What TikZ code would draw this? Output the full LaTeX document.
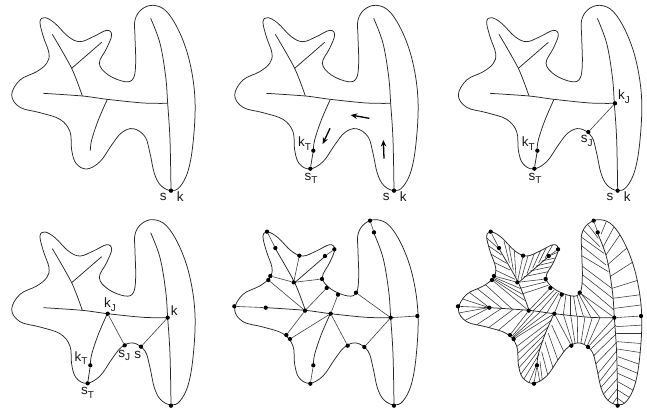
\documentclass[tikz,border=0pt]{standalone}
\usepackage{fontspec}
\setmainfont{Liberation Sans}
\usetikzlibrary{arrows.meta}
\newcommand{\subl}[1]{\raisebox{-0.28em}{\fontsize{10}{10}\selectfont #1}}
\tikzset{
  curve/.style={line width=0.75pt,black!85},
  edge/.style={line width=0.6pt,black!75},
  hatchline/.style={line width=0.55pt,black!80},
  dot/.style={circle,fill=black,inner sep=0pt,minimum size=4.3pt},
  lab/.style={font=\fontsize{13.5}{13.5}\selectfont,inner sep=0pt,text=black!90},
  flow/.style={line width=1.3pt,-{Stealth[length=6.5pt,width=5.5pt]}},
}
\newcommand{\blob}{plot[smooth cycle,tension=.62] coordinates {(513,572)(482,556)(463,520)(450,460)(435,410)(400,386)(365,398)(335,435)(300,485)(260,507)(228,490)(215,450)(210,395)(180,358)(120,338)(60,322)(35,285)(60,240)(110,215)(140,190)(147,160)(130,110)(120,65)(135,53)(165,70)(205,110)(240,125)(280,110)(320,91)(335,105)(320,145)(298,190)(325,225)(375,245)(400,235)(407,190)(405,110)(405,60)(425,28)(460,16)(500,35)(540,100)(570,190)(585,300)(580,420)(565,510)(540,560)}}
\newcommand{\drawblob}{\draw[curve] \blob;}
\newcommand{\drawskel}{%
  \draw[curve] plot[smooth,tension=.6] coordinates {(452,55)(480,130)(497,230)(503,310)(510,420)(513,572)};
  \draw[curve] plot[smooth,tension=.5] coordinates {(130,280)(247,288)(322,298)(430,309)(503,310)};
  \draw[curve] plot[smooth,tension=.5] coordinates {(157,103)(215,205)(247,288)};
  \draw[curve] (215,205) -- (305,127);
  \draw[curve] plot[smooth,tension=.6] coordinates {(322,298)(295,360)(275,420)(271,452)};
}
\newcommand{\fullgraph}{%
  \node[dot] (top) at (441,19) {};
  \node[dot] (topin) at (453,54) {};
  \node[dot] (la) at (132,52) {};
  \node[dot] (lb) at (157,101) {};
  \node[dot] (lc) at (229,124) {};
  \node[dot] (ld) at (306,125) {};
  \node[dot] (le) at (334,105) {};
  \node[dot] (lf) at (142,185) {};
  \node[dot] (lg) at (136,197) {};
  \node[dot] (lh) at (212,204) {};
  \node[dot] (li) at (297,194) {};
  \node[dot] (lj) at (311,221) {};
  \node[dot] (lk) at (345,241) {};
  \node[dot] (ll) at (399,235) {};
  \node[dot] (ma) at (246,289) {};
  \node[dot] (mb) at (323,298) {};
  \node[dot] (mc) at (503,310) {};
  \node[dot] (md) at (583,305) {};
  \node[dot] (me) at (34,276) {};
  \node[dot] (mf) at (128,280) {};
  \node[dot] (na) at (190,362) {};
  \node[dot] (nb) at (201,374) {};
  \node[dot] (nc) at (374,394) {};
  \node[dot] (nd) at (424,398) {};
  \node[dot] (ne) at (271,453) {};
  \node[dot] (nf) at (262,508) {};
  \node[dot] (ng) at (513,574) {};
  \draw[edge] (top)--(topin) (la)--(lb) (lc)--(lh) (ld)--(le) (lf)--(lh) (lg)--(ma) (li)--(lh)
    (lj)--(ma) (lk)--(mb) (ll)--(mc) (mc)--(md) (me)--(mf) (na)--(ma) (nb)--(mb) (nc)--(mb)
    (nd)--(mc) (ne)--(nf);
}
\begin{document}
\begin{tikzpicture}[x=0.33333pt,y=-0.33333pt]
\useasboundingbox (0,0) rectangle (1941,1239);
% panel 1
\begin{scope}[name prefix=a-]
  \drawblob \drawskel
  \node[dot] (b) at (513,572) {};
  \node[lab] (s) at (490,592) {s};
  \node[lab] (k) at (541,590) {k};
\end{scope}
% panel 2
\begin{scope}[shift={(669,0)},name prefix=b-]
  \drawblob \drawskel
  \node[dot] (b) at (513,572) {};
  \node[dot] (kt) at (271,452) {};
  \node[dot] (st) at (262,506) {};
  \draw[curve] (kt)--(st);
  \node[lab] (s) at (490,592) {s};
  \node[lab] (k) at (541,590) {k};
  \node[lab] (kl) at (245,431) {k\subl{T}};
  \node[lab] (sl) at (264,535) {s\subl{T}};
  \coordinate (f1a) at (439,355); \coordinate (f1b) at (383,345);
  \coordinate (f2a) at (321,385); \coordinate (f2b) at (299,432);
  \coordinate (f3a) at (483,476); \coordinate (f3b) at (481,420);
  \draw[flow] (f1a)--(f1b);
  \draw[flow] (f2a)--(f2b);
  \draw[flow] (f3a)--(f3b);
\end{scope}
% panel 3
\begin{scope}[shift={(1340,0)},name prefix=c-]
  \drawblob \drawskel
  \node[dot] (b) at (513,572) {};
  \node[dot] (kt) at (272,452) {};
  \node[dot] (st) at (263,506) {};
  \node[dot] (kj) at (505,310) {};
  \node[dot] (sj) at (425,396) {};
  \draw[curve] (kt)--(st);
  \draw[edge] (kj)--(sj);
  \node[lab] (s) at (490,592) {s};
  \node[lab] (k) at (542,590) {k};
  \node[lab] (kl) at (245,431) {k\subl{T}};
  \node[lab] (sl) at (265,535) {s\subl{T}};
  \node[lab] (kjl) at (532,289) {k\subl{J}};
  \node[lab] (sjl) at (420,423) {s\subl{J}};
\end{scope}
% panel 4
\begin{scope}[shift={(0,643)},name prefix=d-]
  \drawblob \drawskel
  \node[dot] (b) at (513,574) {};
  \node[dot] (kt) at (271,453) {};
  \node[dot] (st) at (263,507) {};
  \node[dot] (kj) at (323,298) {};
  \node[dot] (kk) at (503,310) {};
  \node[dot] (sj) at (374,393) {};
  \node[dot] (ss) at (423,397) {};
  \draw[curve] (kt)--(st);
  \draw[edge] (kj)--(sj) (kk)--(ss);
  \node[lab] (kl) at (243,431) {k\subl{T}};
  \node[lab] (sl) at (263,535) {s\subl{T}};
  \node[lab] (kjl) at (330,270) {k\subl{J}};
  \node[lab] (kkl) at (523,288) {k};
  \node[lab] (sjl) at (373,423) {s\subl{J}};
  \node[lab] (ssl) at (413,422) {s};
\end{scope}
% panel 5
\begin{scope}[shift={(669,643)},name prefix=e-]
  \drawblob \drawskel \fullgraph
\end{scope}
% panel 6
\begin{scope}[shift={(1340,643)},name prefix=f-]
  \begin{scope}
    \clip \blob;
    \foreach \a/\b/\c/\d in {
      463/60/482/14, 470/97/504/34, 478/122/526/52, 482/152/545/97, 490/187/560/142,
      496/222/576/197, 498/252/590/240, 503/282/590/271,
      410/47/460/97, 405/69/472/117, 402/92/478/152, 402/122/485/172, 402/152/495/222,
      402/177/498/252, 402/202/502/287, 425/32/455/72,
      508/337/590/332, 510/357/590/357, 512/382/590/388, 512/404/590/416, 513/427/590/454,
      513/452/580/480, 513/477/572/503, 513/502/560/528, 513/527/546/548, 513/552/535/568,
      508/332/432/405, 510/357/440/425, 512/382/446/450, 512/407/452/480, 512/432/456/505,
      513/462/462/520, 513/492/468/542, 513/522/482/560, 513/547/496/570,
      350/300/380/396, 372/302/386/392, 392/305/393/392, 415/307/402/392, 437/309/412/392, 460/310/420/398,
      315/332/356/422, 305/357/338/450, 295/382/322/470, 285/412/306/492, 280/442/288/506,
      315/317/200/404, 305/337/205/424, 297/357/207/446, 290/378/210/468, 283/398/216/488, 277/420/228/500, 272/445/245/510,
      271/453/280/506,
      130/279/30/297, 130/279/48/322, 165/282/80/338, 200/285/115/348, 228/287/150/352,
      112/207/196/284, 88/220/166/282, 68/234/128/280, 48/254/128/280,
      140/188/220/222, 139/191/226/239, 138/194/234/258,
      116/67/155/102, 115/87/165/122, 120/112/180/147, 127/137/190/167, 135/162/205/195,
      172/80/188/145, 187/95/200/167, 203/108/208/187,
      246/118/224/193, 265/112/241/178, 284/104/258/162, 302/94/276/146, 322/85/295/131,
      232/187/305/172, 250/170/312/157, 268/155/322/142, 285/140/330/130, 306/125/335/113,
      220/222/300/202, 226/239/305/213,
      258/291/322/228, 278/293/330/233, 300/296/336/237,
      350/300/358/240, 370/302/370/242, 390/304/380/242, 410/305/390/240, 432/307/395/236, 460/310/399/232,
      196/366/262/291, 198/369/280/293, 199/371/300/296%
    } { \draw[hatchline] (\a,\b) -- (\c,\d); }
  \end{scope}
  \drawblob \drawskel \fullgraph
\end{scope}
\end{tikzpicture}
\end{document}
